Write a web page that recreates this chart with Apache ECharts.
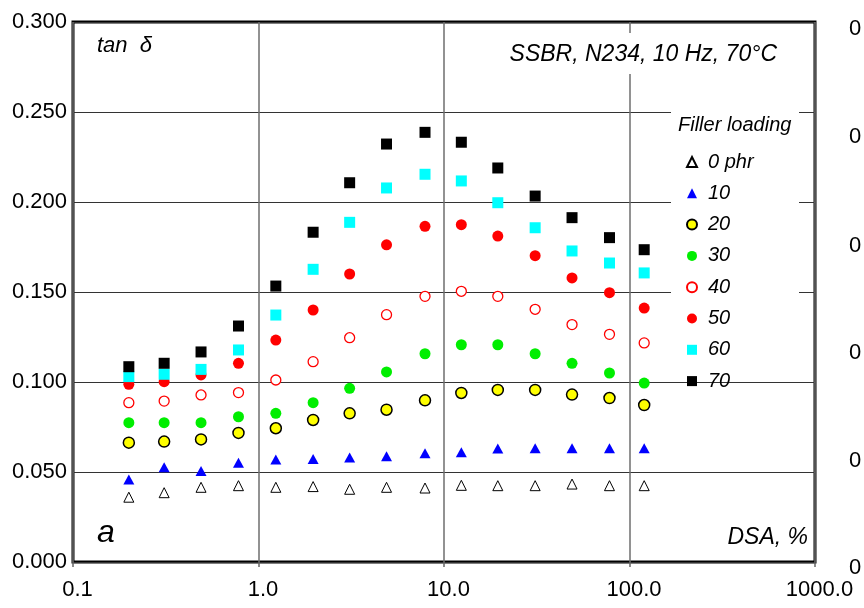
<!DOCTYPE html>
<html>
<head>
<meta charset="utf-8">
<script src="https://cdn.jsdelivr.net/npm/echarts@6/dist/echarts.min.js"></script>
<style>
html,body{margin:0;padding:0;background:#fff;}
#chart{width:864px;height:608px;}
</style>
</head>
<body>
<div id="chart"></div>
<script>
// DSA strain amplitude, %
const dsa = [0.2, 0.31, 0.49, 0.78, 1.24, 1.97, 3.1, 4.9, 7.9, 12.4, 19.5, 31, 49, 78, 120];
// tan delta per filler loading
const phr0  = [0.0360, 0.0385, 0.0415, 0.0424, 0.0415, 0.0419, 0.0404, 0.0415, 0.0411, 0.0426, 0.0424, 0.0424, 0.0433, 0.0424, 0.0424];
const phr10 = [0.0459, 0.0526, 0.0506, 0.0552, 0.0570, 0.0572, 0.0581, 0.0587, 0.0604, 0.0610, 0.0630, 0.0632, 0.0632, 0.0632, 0.0632];
const phr20 = [0.0663, 0.0669, 0.0681, 0.0717, 0.0743, 0.0789, 0.0826, 0.0846, 0.0898, 0.0939, 0.0956, 0.0956, 0.0930, 0.0911, 0.0872];
const phr30 = [0.0774, 0.0774, 0.0774, 0.0807, 0.0826, 0.0885, 0.0965, 0.1056, 0.1157, 0.1207, 0.1207, 0.1157, 0.1104, 0.1050, 0.0994];
const phr40 = [0.0885, 0.0894, 0.0928, 0.0941, 0.1011, 0.1113, 0.1246, 0.1374, 0.1476, 0.1504, 0.1476, 0.1404, 0.1319, 0.1265, 0.1217];
const phr50 = [0.0987, 0.1002, 0.1039, 0.1104, 0.1233, 0.1400, 0.1600, 0.1762, 0.1865, 0.1874, 0.1811, 0.1702, 0.1578, 0.1496, 0.1411];
const phr60 = [0.1030, 0.1043, 0.1070, 0.1178, 0.1372, 0.1626, 0.1887, 0.2078, 0.2154, 0.2117, 0.1996, 0.1857, 0.1728, 0.1661, 0.1606];
const phr70 = [0.1085, 0.1104, 0.1167, 0.1311, 0.1533, 0.1832, 0.2107, 0.2322, 0.2387, 0.2332, 0.2189, 0.2033, 0.1913, 0.1802, 0.1735];
const seriesNames = ['0 phr', '10', '20', '30', '40', '50', '60', '70'];
const seriesValues = [phr0, phr10, phr20, phr30, phr40, phr50, phr60, phr70];
const yTicks = [0, 0.05, 0.1, 0.15, 0.2, 0.25, 0.3];

const FONT = '"Liberation Sans", Arial, sans-serif';
const styles = [
  {symbol: 'triangle', symbolSize: [10, 10], itemStyle: {color: '#fff', borderColor: '#000', borderWidth: 1, opacity: 1}},
  {symbol: 'triangle', symbolSize: [11, 10], itemStyle: {color: '#0000ff', opacity: 1}},
  {symbol: 'circle', symbolSize: 11, itemStyle: {color: '#ffff00', borderColor: '#000', borderWidth: 1.5, opacity: 1}},
  {symbol: 'circle', symbolSize: 11, itemStyle: {color: '#00ee00', opacity: 1}},
  {symbol: 'circle', symbolSize: 10, itemStyle: {color: '#fff', borderColor: '#ff0000', borderWidth: 1.3, opacity: 1}},
  {symbol: 'circle', symbolSize: 11, itemStyle: {color: '#ff0000', opacity: 1}},
  {symbol: 'rect', symbolSize: 11, itemStyle: {color: '#00ffff', opacity: 1}},
  {symbol: 'rect', symbolSize: 11, itemStyle: {color: '#000', opacity: 1}}
];

const series = seriesNames.map((name, i) => Object.assign({
  name: name,
  type: 'scatter',
  data: dsa.map((x, j) => [x, seriesValues[i][j]]),
  z: 3
}, styles[i]));

const chart = echarts.init(document.getElementById('chart'), null, {renderer: 'canvas'});
chart.setOption({
  animation: false,
  backgroundColor: '#fff',
  grid: {left: 73, right: 49, top: 22, bottom: 46, show: true, borderColor: '#000', borderWidth: 3, backgroundColor: 'transparent'},
  xAxis: {
    type: 'log', logBase: 10, min: 0.1, max: 1000,
    axisLine: {show: false},
    axisTick: {show: true, length: 5, lineStyle: {color: '#666', width: 1.5}},
    minorTick: {show: false},
    splitLine: {show: true, lineStyle: {color: '#6e6e6e', width: 1.5}},
    axisLabel: {color: '#000', fontSize: 22, fontFamily: FONT, margin: 17, padding: [0, 0, 0, 9],
      formatter: v => Number(v).toFixed(1)}
  },
  yAxis: {
    type: 'value', min: yTicks[0], max: yTicks[yTicks.length - 1], interval: 0.05,
    axisLine: {show: false},
    axisTick: {show: false},
    splitLine: {show: true, lineStyle: {color: '#333', width: 1}},
    axisLabel: {color: '#000', fontSize: 22, fontFamily: FONT, margin: 6,
      formatter: v => Number(v).toFixed(3)}
  },
  legend: {
    orient: 'vertical', left: 681, top: 147, itemGap: 11.3,
    itemWidth: 10, itemHeight: 10,
    data: seriesNames,
    textStyle: {fontSize: 20, fontStyle: 'italic', fontFamily: FONT, color: '#000', padding: [0, 0, 0, 6]},
    selectedMode: false
  },
  graphic: [
    {type: 'rect', z: 1, shape: {x: 500, y: 33, width: 282, height: 41}, style: {fill: '#fff'}},
    {type: 'rect', z: 1, shape: {x: 671, y: 104, width: 128, height: 277}, style: {fill: '#fff'}},
    {type: 'text', z: 5, style: {x: 97, y: 46, text: 'tan  δ', font: 'italic 22px ' + FONT, fill: '#000', align: 'left', verticalAlign: 'middle'}},
    {type: 'text', z: 5, style: {x: 777, y: 55, text: 'SSBR, N234, 10 Hz, 70°C', font: 'italic 23px ' + FONT, fill: '#000', align: 'right', verticalAlign: 'middle'}},
    {type: 'text', z: 5, style: {x: 678, y: 125, text: 'Filler loading', font: 'italic 20px ' + FONT, fill: '#000', align: 'left', verticalAlign: 'middle'}},
    {type: 'text', z: 5, style: {x: 97, y: 533, text: 'a', font: 'italic 32px ' + FONT, fill: '#000', align: 'left', verticalAlign: 'middle'}},
    {type: 'text', z: 5, style: {x: 808, y: 538, text: 'DSA, %', font: 'italic 23px ' + FONT, fill: '#000', align: 'right', verticalAlign: 'middle'}},
    {type: 'text', z: 5, style: {x: 849, y: 29, text: '0', font: '22px ' + FONT, fill: '#000', align: 'left', verticalAlign: 'middle'}},
    {type: 'text', z: 5, style: {x: 849, y: 137, text: '0', font: '22px ' + FONT, fill: '#000', align: 'left', verticalAlign: 'middle'}},
    {type: 'text', z: 5, style: {x: 849, y: 246, text: '0', font: '22px ' + FONT, fill: '#000', align: 'left', verticalAlign: 'middle'}},
    {type: 'text', z: 5, style: {x: 849, y: 353, text: '0', font: '22px ' + FONT, fill: '#000', align: 'left', verticalAlign: 'middle'}},
    {type: 'text', z: 5, style: {x: 849, y: 461, text: '0', font: '22px ' + FONT, fill: '#000', align: 'left', verticalAlign: 'middle'}},
    {type: 'text', z: 5, style: {x: 849, y: 568, text: '0', font: '22px ' + FONT, fill: '#000', align: 'left', verticalAlign: 'middle'}}
  ],
  series: series
});
</script>
</body>
</html>
